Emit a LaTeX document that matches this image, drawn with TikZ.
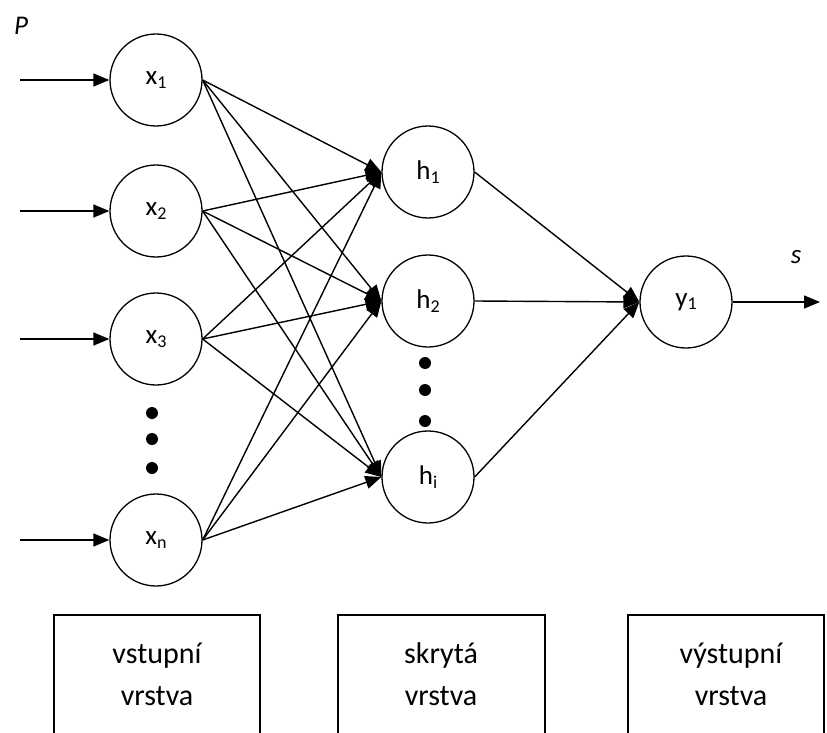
\documentclass[tikz,border=0pt]{standalone}
\usepackage{fontspec}
\setmainfont{Carlito}
\usetikzlibrary{arrows.meta}
% lowered, smaller index for neuron labels
\newcommand{\nidx}[1]{{\fontsize{18}{18}\selectfont\raisebox{-3.5pt}{#1}}}
\begin{document}
\begin{tikzpicture}[x=1pt,y=-1pt,
  neuron/.style={circle,draw,line width=1.3pt,minimum size=92pt,inner sep=0pt,
                 font=\fontsize{27}{27}\selectfont},
  link/.style={line width=1.4pt,-{Triangle[length=16pt,width=13pt]}},
  bullet/.style={circle,fill,inner sep=0pt,minimum size=12pt},
  layerbox/.style={line width=1.3pt},
  layertext/.style={align=center,font=\fontsize{30}{42}\selectfont},
  signal/.style={font=\fontsize{27}{27}\selectfont\itshape}]
\useasboundingbox (0,0) rectangle (827,733);

% input layer
\node[neuron] (x1) at (156,80)  {x\nidx{1}};
\node[neuron] (x2) at (156,211) {x\nidx{2}};
\node[neuron] (x3) at (156,339) {x\nidx{3}};
\node[neuron] (xn) at (156,540) {x\nidx{n}};
\node[bullet] (xd1) at (152,413) {};
\node[bullet] (xd2) at (152,439) {};
\node[bullet] (xd3) at (152,468) {};

% hidden layer
\node[neuron] (h1) at (428,172) {h\nidx{1}};
\node[neuron] (h2) at (428,301) {h\nidx{2}};
\node[neuron] (hi) at (428,477) {h\nidx{i}};
\node[bullet] (hd1) at (425,363) {};
\node[bullet] (hd2) at (425,390) {};
\node[bullet] (hd3) at (425,421) {};

% output layer
\node[neuron] (y1) at (686,302) {y\nidx{1}};

% input signals
\coordinate (in1) at (20,80);
\coordinate (in2) at (20,211);
\coordinate (in3) at (20,339);
\coordinate (inn) at (20,540);
\coordinate (out) at (820,302);
\node[signal] (P) at (21,26) {P};
\node[signal] (s) at (796,257) {s};

\foreach \a/\b in {in1/x1,in2/x2,in3/x3,inn/xn}
  \draw[link] (\a) -- (\b.west);

% input -> hidden
\foreach \a in {x1,x2,x3,xn}
  \foreach \b in {h1,h2,hi}
    \draw[link] (\a.east) -- (\b.west);

% hidden -> output
\foreach \b in {h1,h2,hi}
  \draw[link] (\b.east) -- (y1.west);
\draw[link] (y1.east) -- (out);

% layer captions
\draw[layerbox] (54,733) -- (54,615) -- (260,615) -- (260,733);
\draw[layerbox] (338,733) -- (338,615) -- (545,615) -- (545,733);
\draw[layerbox] (628,733) -- (628,615) -- (824,615) -- (824,733);
\node[layertext] (L1) at (157,674) {vstupní\\vrstva};
\node[layertext] (L2) at (441,674) {skrytá\\vrstva};
\node[layertext] (L3) at (731,674) {výstupní\\vrstva};
\end{tikzpicture}
\end{document}
